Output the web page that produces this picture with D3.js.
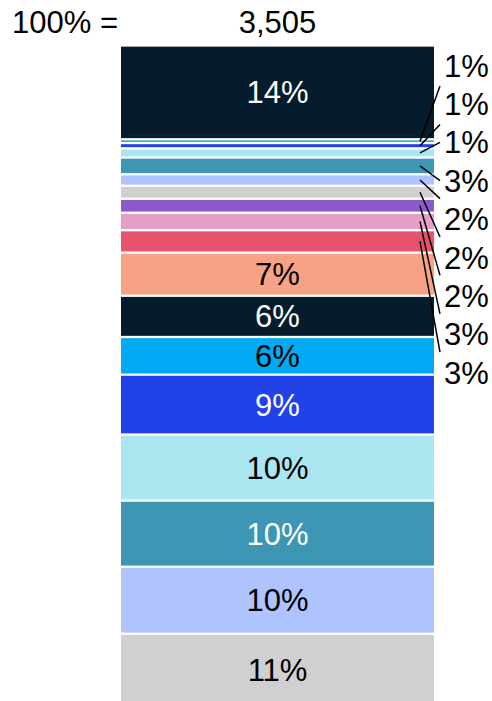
<!DOCTYPE html>
<html>
<head>
<meta charset="utf-8">
<script src="https://cdn.jsdelivr.net/npm/d3@7"></script>
<style>
  html, body { margin: 0; padding: 0; background: #fff; }
  svg { display: block; font-family: "Liberation Sans", Arial, Helvetica, sans-serif; }
</style>
</head>
<body>
<div id="chart"></div>
<script>
// Respondent counts per segment, stacked top to bottom in one 100% column
const total = 3505;
const segments = ["s1", "s2", "s3", "s4", "s5", "s6", "s7", "s8", "s9",
                  "s10", "s11", "s12", "s13", "s14", "s15", "s16", "s17", "s18"];
const counts = [498, 20, 28, 49, 89, 61, 69, 74, 93,
                119, 229, 219, 200, 318, 351, 351, 356, 381];

// Fill and text colour for each segment
const fills = ["#051C2C", "#00A9F4", "#2142E8", "#AAE6F0", "#3C96B4", "#AFC3FF",
               "#D0D0D0", "#8C5AC8", "#E6A0C8", "#E5546C", "#F8A285", "#051C2C",
               "#00A9F4", "#2142E8", "#AAE6F0", "#3C96B4", "#AFC3FF", "#D0D0D0"];
const inks = ["#fff", "#000", "#fff", "#000", "#fff", "#000",
              "#000", "#fff", "#000", "#fff", "#000", "#fff",
              "#000", "#fff", "#000", "#fff", "#000", "#000"];

const width = 492, height = 701;
const fontSize = 31;
const pct = d3.format(".0%");

const svg = d3.select("#chart").append("svg")
  .attr("width", width)
  .attr("height", height);

const x = d3.scaleBand().domain(["all"]).range([121, 434]).padding(0);
const y = d3.scaleLinear().domain([0, total]).range([45.5, 705.5]);

const ends = d3.cumsum(counts);
const data = segments.map((key, i) => ({
  key,
  value: counts[i],
  share: counts[i] / total,
  y0: ends[i] - counts[i],
  y1: ends[i],
  fill: fills[i],
  ink: inks[i]
}));

const gap = 1.15; // half of the white separator between segments
const bar = svg.append("g");

bar.selectAll("rect")
  .data(data)
  .join("rect")
  .attr("x", x("all"))
  .attr("width", x.bandwidth())
  .attr("y", d => y(d.y0) + gap)
  .attr("height", d => Math.max(0, y(d.y1) - y(d.y0) - 2 * gap))
  .attr("fill", d => d.fill);

// Labels inside the larger segments
const big = data.filter(d => d.share >= 0.05);
bar.selectAll("text")
  .data(big)
  .join("text")
  .attr("x", x("all") + x.bandwidth() / 2)
  .attr("y", d => (y(d.y0) + y(d.y1)) / 2 + fontSize * 0.358)
  .attr("text-anchor", "middle")
  .attr("font-size", fontSize)
  .attr("fill", d => d.ink)
  .text(d => pct(d.share));

// Smaller segments are labelled in a column to the right with leader lines
const small = data.filter(d => d.share < 0.05);
const labelX = 444;
const firstLabel = 65.5, labelStep = 38.4, reach = 20.5;
small.forEach((d, j) => {
  d.mid = (y(d.y0) + y(d.y1)) / 2;
  d.labelY = firstLabel + j * labelStep;
  const diff = d.mid - d.labelY;
  d.tipY = Math.abs(diff) < reach ? d.labelY : d.labelY + Math.sign(diff) * reach;
});

const side = svg.append("g");
side.selectAll("line")
  .data(small)
  .join("line")
  .attr("x1", 420)
  .attr("y1", d => d.mid)
  .attr("x2", 440)
  .attr("y2", d => d.tipY)
  .attr("stroke", "#000")
  .attr("stroke-width", 1.5);

side.selectAll("text")
  .data(small)
  .join("text")
  .attr("x", labelX)
  .attr("y", d => d.labelY + fontSize * 0.358)
  .attr("font-size", fontSize)
  .attr("fill", "#000")
  .text(d => pct(d.share));

// Header row: base size of the column
const header = svg.append("g").attr("font-size", fontSize).attr("fill", "#000");
header.append("text")
  .attr("x", 12)
  .attr("y", 33)
  .text("100% =");
header.append("text")
  .attr("x", x("all") + x.bandwidth() / 2)
  .attr("y", 33)
  .attr("text-anchor", "middle")
  .text(d3.format(",")(total));
</script>
</body>
</html>
